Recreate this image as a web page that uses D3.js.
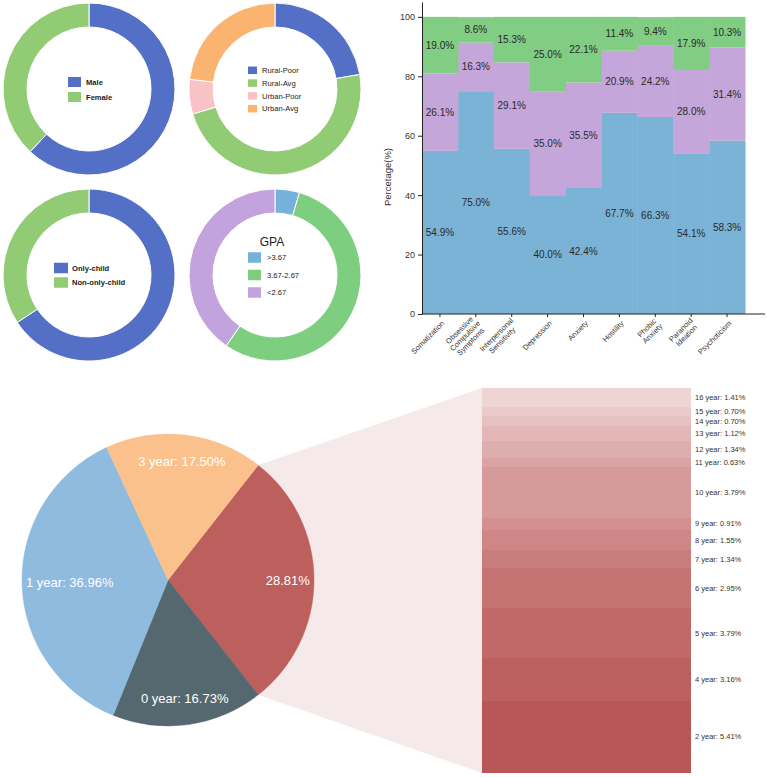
<!DOCTYPE html>
<html>
<head>
<meta charset="utf-8">
<script src="https://cdn.jsdelivr.net/npm/d3@7"></script>
<style>
  body { margin: 0; background: #fff; }
  text { font-family: "Liberation Sans", Arial, sans-serif; }
</style>
</head>
<body>
<div id="chart"></div>
<script>
// ---- donut data ----
const sexLabels = ["Male", "Female"];
const sexValues = [62.0, 38.0];
const regionLabels = ["Rural-Poor", "Rural-Avg", "Urban-Poor", "Urban-Avg"];
const regionValues = [22.3, 48.0, 6.5, 23.2];
const childLabels = ["Only-child", "Non-only-child"];
const childValues = [65.7, 34.3];
const gpaLabels = [">3.67", "3.67-2.67", "<2.67"];
const gpaValues = [4.6, 55.0, 40.4];

// ---- stacked bar data ----
const symptoms = ["Somatization", "Obsessive\nCompulsive\nSymptoms", "Interpersonal\nSensitivity",
  "Depression", "Anxiety", "Hostility", "Phobic\nAnxiety", "Paranoid\nIdeation", "Psychoticism"];
const lowValues = [54.9, 75.0, 55.6, 40.0, 42.4, 67.7, 66.3, 54.1, 58.3];
const midValues = [26.1, 16.3, 29.1, 35.0, 35.5, 20.9, 24.2, 28.0, 31.4];
const highValues = [19.0, 8.6, 15.3, 25.0, 22.1, 11.4, 9.4, 17.9, 10.3];
const yTicks = [0, 20, 40, 60, 80, 100];

// ---- pie / bar-of-pie data ----
const pieLabels = ["", "0 year", "1 year", "3 year"];
const pieValues = [28.81, 16.73, 36.96, 17.50];
const detailLabels = ["2 year", "4 year", "5 year", "6 year", "7 year", "8 year", "9 year",
  "10 year", "11 year", "12 year", "13 year", "14 year", "15 year", "16 year"];
const detailValues = [5.41, 3.16, 3.79, 2.95, 1.34, 1.55, 0.91, 3.79, 0.63, 1.34, 1.12, 0.70, 0.70, 1.41];

const width = 767;
const height = 777;

const svg = d3.select("#chart")
  .append("svg")
  .attr("width", width)
  .attr("height", height);

// Draw one donut with its legend in the middle
function drawDonut(opt) {
  const g = svg.append("g").attr("transform", `translate(${opt.cx},${opt.cy})`);
  const pie = d3.pie().sort(null);
  const arc = d3.arc().innerRadius(62).outerRadius(86);

  g.selectAll("path")
    .data(pie(opt.values))
    .enter()
    .append("path")
    .attr("d", arc)
    .attr("fill", (d, i) => opt.colors[i])
    .attr("stroke", "#fff")
    .attr("stroke-width", 1);

  if (opt.title) {
    g.append("text")
      .attr("x", -3)
      .attr("y", opt.titleY)
      .attr("text-anchor", "middle")
      .style("font-size", "12px")
      .attr("fill", "#222")
      .text(opt.title);
  }

  const legend = g.append("g").attr("transform", `translate(${opt.lx},${opt.ly})`);
  opt.labels.forEach((label, i) => {
    const item = legend.append("g").attr("transform", `translate(0,${i * opt.step})`);
    item.append("rect")
      .attr("x", 0)
      .attr("y", -opt.sh / 2)
      .attr("width", opt.sw)
      .attr("height", opt.sh)
      .attr("fill", opt.colors[i]);
    item.append("text")
      .attr("x", opt.sw + opt.gap)
      .attr("y", 0)
      .attr("dy", "0.35em")
      .style("font-size", "7.6px")
      .style("font-weight", opt.bold ? "bold" : "normal")
      .attr("fill", "#222")
      .text(label);
  });
}

drawDonut({ cx: 89, cy: 89, labels: sexLabels, values: sexValues,
  colors: ["#5470c6", "#91cc75"], lx: -21, ly: -7, step: 15, sw: 13, sh: 10, gap: 5, bold: true });
drawDonut({ cx: 275, cy: 89, labels: regionLabels, values: regionValues,
  colors: ["#5470c6", "#91cc75", "#f9c2c7", "#fbb46f"], lx: -27, ly: -18.7, step: 12.8, sw: 9, sh: 7.5, gap: 5, bold: false });
drawDonut({ cx: 89, cy: 275, labels: childLabels, values: childValues,
  colors: ["#5470c6", "#91cc75"], lx: -35, ly: -7, step: 14.5, sw: 14, sh: 10.5, gap: 4, bold: true });
drawDonut({ cx: 275, cy: 275, labels: gpaLabels, values: gpaValues,
  colors: ["#74b2dc", "#7dcf7f", "#c3a3dd"], lx: -27, ly: -17.5, step: 17.5, sw: 13, sh: 10.5, gap: 6, bold: false,
  title: "GPA", titleY: -29 });

// ---- stacked percentage bars ----
const rows = symptoms.map((s, i) => ({ name: s, low: lowValues[i], mid: midValues[i], high: highValues[i] }));
const barColors = { low: "#7bb3d6", mid: "#c5a6db", high: "#80cd83" };

const x = d3.scaleBand().domain(symptoms).range([422, 745]).padding(0);
const y = d3.scaleLinear().domain([0, 105]).range([314, 2]);

const series = d3.stack().keys(["low", "mid", "high"])(rows);

const barG = svg.append("g");
series.forEach(s => {
  barG.append("g")
    .selectAll("rect")
    .data(s)
    .enter()
    .append("rect")
    .attr("x", d => x(d.data.name))
    .attr("y", d => y(d[1]))
    .attr("width", x.bandwidth() + 0.5)
    .attr("height", d => y(d[0]) - y(d[1]))
    .attr("fill", barColors[s.key]);

  barG.append("g")
    .selectAll("text")
    .data(s)
    .enter()
    .append("text")
    .attr("x", d => x(d.data.name) + x.bandwidth() / 2)
    .attr("y", d => y((d[0] + d[1]) / 2))
    .attr("dy", "0.35em")
    .attr("text-anchor", "middle")
    .style("font-size", "10px")
    .attr("fill", "#2a2a2a")
    .text(d => (d[1] - d[0]).toFixed(1) + "%");
});

// y axis
const yAxis = svg.append("g")
  .attr("transform", "translate(422,0)")
  .call(d3.axisLeft(y).tickValues(yTicks).tickSize(4).tickSizeOuter(0));
yAxis.selectAll("text").style("font-size", "9px").attr("fill", "#333");
yAxis.selectAll("line, path").attr("stroke", "#222");

svg.append("text")
  .attr("transform", "translate(391,177) rotate(-90)")
  .attr("text-anchor", "middle")
  .style("font-size", "9.5px")
  .attr("fill", "#333")
  .text("Percetage(%)");

// x axis
const xAxis = svg.append("g")
  .attr("transform", "translate(0,314)")
  .call(d3.axisBottom(x).tickSize(3).tickSizeOuter(0).tickFormat(""));
xAxis.select(".domain").remove();
xAxis.selectAll("line").attr("stroke", "#222");
svg.append("line")
  .attr("x1", 422).attr("x2", 765)
  .attr("y1", 314).attr("y2", 314)
  .attr("stroke", "#222");

const xLab = svg.append("g").selectAll("text")
  .data(symptoms)
  .enter()
  .append("text")
  .attr("transform", d => `translate(${x(d) + x.bandwidth() / 2 + 3},${322}) rotate(-45)`)
  .style("font-size", "7.5px")
  .attr("fill", "#333");
xLab.each(function (d) {
  const lines = d.split("\n");
  const t = d3.select(this);
  const spans = lines.map((line, i) => t.append("tspan")
    .attr("y", (i - (lines.length - 1) / 2) * 8)
    .attr("dy", "0.35em")
    .text(line));
  const maxLen = d3.max(spans, s => s.node().getComputedTextLength());
  spans.forEach(s => s.attr("x", -maxLen / 2).attr("text-anchor", "middle"));
});

// ---- pie of years ----
const pcx = 168, pcy = 580, R = 146;
const total = d3.sum(pieValues);
const startA = Math.PI / 2 - Math.PI * pieValues[0] / total;
const pieArcs = d3.pie().sort(null).startAngle(startA).endAngle(startA + 2 * Math.PI)(pieValues);
const pieColors = ["#bc5f5d", "#56686f", "#8fbbdf", "#fac18c"];

// bar of the red slice
const barX0 = 482, barX1 = 691;
const yD = d3.scaleLinear().domain([0, d3.sum(detailValues)]).range([773, 388]);

// connector band between slice and bar
const red = pieArcs[0];
const pTop = [pcx + R * Math.sin(red.startAngle), pcy - R * Math.cos(red.startAngle)];
const pBot = [pcx + R * Math.sin(red.endAngle), pcy - R * Math.cos(red.endAngle)];
svg.append("path")
  .attr("d", d3.line()([pTop, [barX0, yD.range()[1]], [barX0, yD.range()[0]], pBot]) + "Z")
  .attr("fill", "#f5e9e9");

const pieG = svg.append("g").attr("transform", `translate(${pcx},${pcy})`);
const pieArc = d3.arc().innerRadius(0).outerRadius(R);
pieG.selectAll("path")
  .data(pieArcs)
  .enter()
  .append("path")
  .attr("d", pieArc)
  .attr("fill", (d, i) => pieColors[i])
  .attr("stroke", (d, i) => pieColors[i])
  .attr("stroke-width", 0.5);

pieG.selectAll("text")
  .data(pieArcs)
  .enter()
  .append("text")
  .attr("text-anchor", "middle")
  .attr("dy", "0.35em")
  .style("font-size", "13px")
  .attr("fill", "#fff")
  .text((d, i) => (pieLabels[i] ? pieLabels[i] + ": " : "") + pieValues[i].toFixed(2) + "%")
  .each(function (d) {
    const a = (d.startAngle + d.endAngle) / 2;
    const half = this.getComputedTextLength() / 2;
    let r = R * 0.82;
    // keep the label inside the circle horizontally
    const sx = Math.abs(Math.sin(a));
    if (sx > 0.01 && r * sx + half > R - 4) r = (R - 4 - half) / sx;
    d3.select(this).attr("x", r * Math.sin(a)).attr("y", -r * Math.cos(a));
  });

// detail stacked bar
let cum = 0;
const detail = detailValues.map((v, i) => {
  const d = { label: detailLabels[i], value: v, y0: cum, y1: cum + v, i: i };
  cum += v;
  return d;
});
const shade = d3.scaleLinear().domain([0, detailValues.length - 1])
  .range(["#b95656", "#efd4d4"]).interpolate(d3.interpolateRgb);

const detG = svg.append("g");
detG.selectAll("rect")
  .data(detail)
  .enter()
  .append("rect")
  .attr("x", barX0)
  .attr("y", d => yD(d.y1))
  .attr("width", barX1 - barX0)
  .attr("height", d => yD(d.y0) - yD(d.y1))
  .attr("fill", d => shade(d.i))
  .attr("shape-rendering", "crispEdges");

detG.selectAll("text")
  .data(detail)
  .enter()
  .append("text")
  .attr("x", barX1 + 4)
  .attr("y", d => yD((d.y0 + d.y1) / 2))
  .attr("dy", "0.35em")
  .style("font-size", "7.5px")
  .attr("fill", "#333")
  .text(d => `${d.label}: ${d.value.toFixed(2)}%`);
</script>
</body>
</html>
